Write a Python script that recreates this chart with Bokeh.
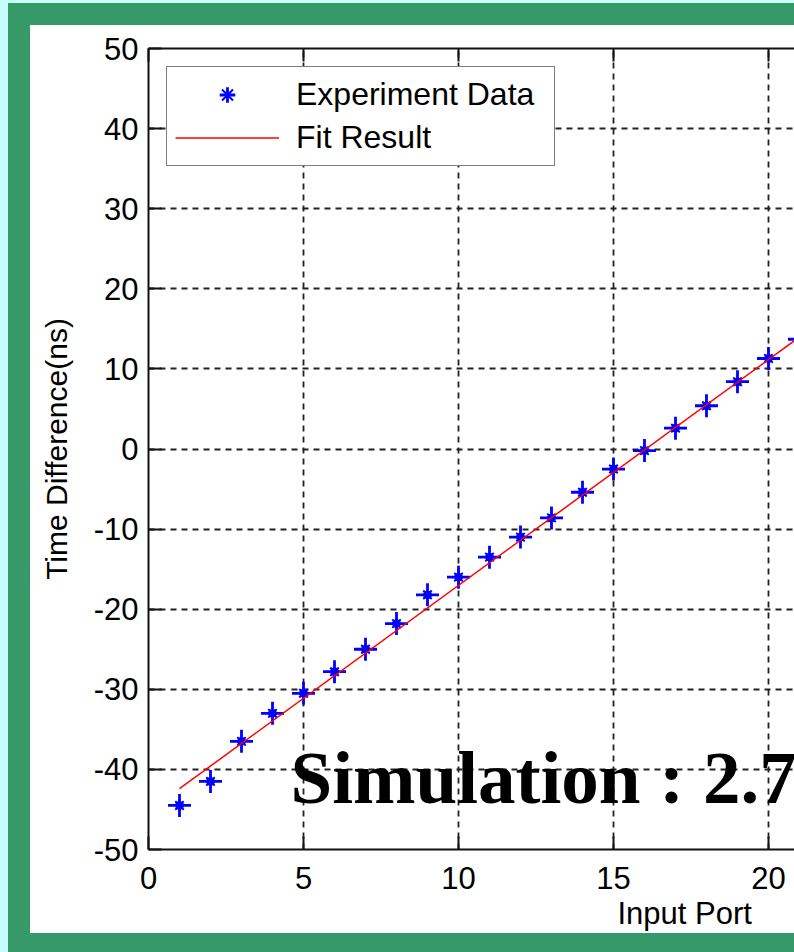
from bokeh.plotting import figure
from bokeh.models import (Range1d, LinearAxis, FixedTicker, Legend, LegendItem,
                          Label, Title, Spacer)
from bokeh.layouts import row, column
from bokeh.embed import file_html
from bokeh.resources import INLINE

# ---------------- data ----------------
ports = [1, 2, 3, 4, 5, 6, 7, 8, 9, 10, 11, 12, 13, 14, 15, 16, 17, 18, 19, 20, 21]
time_diff = [-44.5, -41.5, -36.5, -33.0, -30.5, -27.8, -25.0, -21.8, -18.2, -16.0,
             -13.5, -11.0, -8.6, -5.4, -2.5, -0.2, 2.6, 5.4, 8.4, 11.3, 13.7]
fit_x = [1, 22]
fit_y = [-42.4, 16.8]
x_ticks = [0, 5, 10, 15, 20, 25, 30]
y_ticks = [-50, -40, -30, -20, -10, 0, 10, 20, 30, 40, 50]
legend_labels = ["Experiment Data", "Fit Result"]
x_label = "Input Port"
y_label = "Time Difference(ns)"
overlay_text = "Simulation : 2.7"

# ---------------- style ----------------
GREEN = "#359968"
CYAN = "#c8fcfc"
FONT = "Liberation Sans"
W, H = 764, 908            # white panel of the slide
LEFT, TOP, BOTTOM = 118, 23, 84
PX_PER_X = 31.0

p = figure(width=W, height=H,
           x_range=Range1d(0, (W - LEFT) / PX_PER_X), y_range=Range1d(-50, 50),
           output_backend="svg", toolbar_location=None,
           min_border_left=LEFT, min_border_right=0,
           min_border_top=TOP, min_border_bottom=BOTTOM,
           background_fill_color="white", border_fill_color="white")
p.outline_line_color = None

for ax in (p.xaxis[0], p.yaxis[0]):
    ax.major_tick_in = 13
    ax.major_tick_out = 0
    ax.minor_tick_line_color = None
    ax.axis_line_width = 2
    ax.axis_line_color = "#111111"
    ax.major_tick_line_width = 2
    ax.major_tick_line_color = "#111111"
    ax.major_label_text_font = FONT
    ax.major_label_text_font_size = "31px"
    ax.major_label_text_color = "black"

p.xaxis[0].ticker = FixedTicker(ticks=x_ticks)
p.yaxis[0].ticker = FixedTicker(ticks=y_ticks)
p.xaxis[0].major_label_overrides = {t: str(t) for t in x_ticks}
p.yaxis[0].major_label_overrides = {t: str(t) for t in y_ticks}
p.xaxis[0].major_label_standoff = 17
p.yaxis[0].major_label_standoff = 10
p.yaxis[0].axis_label = y_label
p.yaxis[0].axis_label_text_font = FONT
p.yaxis[0].axis_label_text_font_size = "30px"
p.yaxis[0].axis_label_text_font_style = "normal"
p.yaxis[0].axis_label_text_color = "black"
p.yaxis[0].axis_label_standoff = 18

top_axis = LinearAxis(ticker=FixedTicker(ticks=x_ticks),
                      major_label_overrides={t: "" for t in x_ticks},
                      major_tick_in=13, major_tick_out=0, major_label_standoff=0,
                      minor_tick_line_color=None,
                      axis_line_width=2, axis_line_color="#111111",
                      major_tick_line_width=2, major_tick_line_color="#111111",
                      major_label_text_font_size="1px")
p.add_layout(top_axis, "above")

# x-axis title, placed under the (cropped) axis where the slide shows it
p.add_layout(Title(text=x_label, align="left", offset=469, standoff=5,
                   text_font=FONT, text_font_size="31px", text_font_style="normal",
                   text_color="black"), "below")

p.xgrid.ticker = FixedTicker(ticks=x_ticks)
p.ygrid.ticker = FixedTicker(ticks=y_ticks)
for g in (p.xgrid[0], p.ygrid[0]):
    g.grid_line_color = "#222222"
    g.grid_line_width = 1.8
    g.grid_line_dash = "6 5"

r_cross = p.scatter(ports, time_diff, marker="cross", size=23,
                    line_color="blue", line_width=2.8)
r_x = p.scatter(ports, time_diff, marker="x", size=12,
                line_color="blue", line_width=2)
r_dot = p.scatter(ports, time_diff, marker="circle", size=8,
                  fill_color="blue", line_color="blue")
r_fit = p.line(fit_x, fit_y, line_color="red", line_width=1.5)

legend = Legend(items=[LegendItem(label=legend_labels[0], renderers=[r_cross, r_x]),
                       LegendItem(label=legend_labels[1], renderers=[r_fit])],
                location="top_left", margin=18, padding=8, spacing=4,
                glyph_width=104, glyph_height=39, label_height=39, label_width=250,
                label_standoff=17, label_text_font=FONT, label_text_font_size="32px",
                label_text_color="black", border_line_color="black",
                border_line_width=1.5, background_fill_color="white",
                background_fill_alpha=1.0)
p.add_layout(legend)

p.add_layout(Label(x=4.58, y=-41.07, text=overlay_text, text_font="Liberation Serif",
                   text_font_style="bold", text_font_size="75px", text_color="black",
                   text_align="left", text_baseline="middle"))

# slide frame: light cyan strip, then green band, around the white panel
def strip(w, h, color):
    return Spacer(width=w, height=h, styles={"background-color": color})

layout = column(
    strip(794, 3, CYAN),
    row(strip(8, 949, CYAN), strip(22, 949, GREEN),
        column(strip(W, 22, GREEN), p, strip(W, 19, GREEN), spacing=0),
        spacing=0),
    spacing=0)

open("out.html", "w").write(file_html(layout, INLINE))
